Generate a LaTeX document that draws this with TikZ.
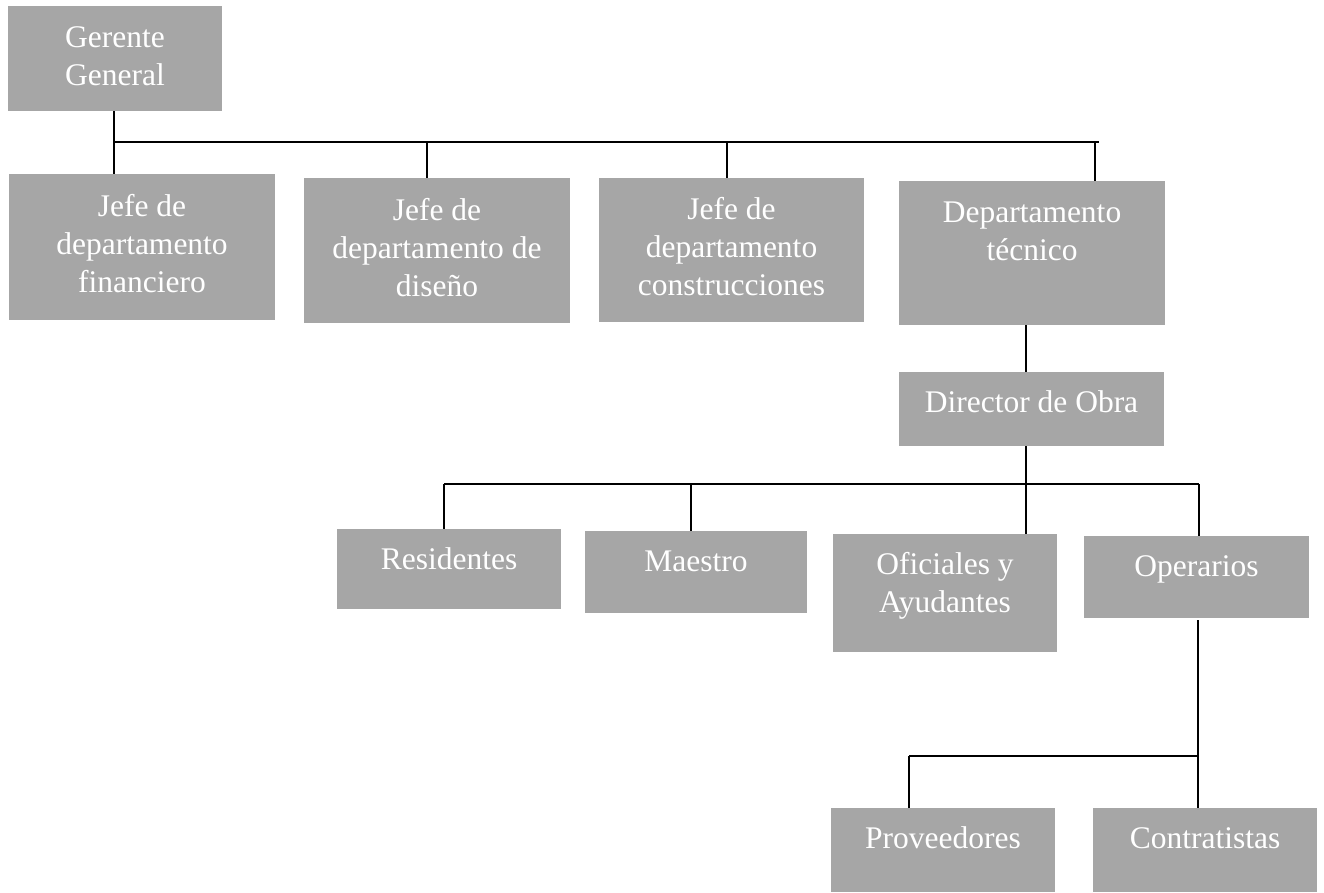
\documentclass[tikz,border=0pt]{standalone}
\usepackage{fontspec}
\setmainfont{Liberation Serif}
\definecolor{boxgray}{HTML}{A6A6A6}
\begin{document}
\begin{tikzpicture}[x=1pt,y=-1pt,
 box/.style={fill=boxgray, draw=none, inner sep=0pt, rectangle},
 txt/.style={anchor=north, inner sep=0pt, align=center, text=white, font=\fontsize{31.5}{38}\selectfont},
 conn/.style={line width=2.3pt, draw=black}]
\useasboundingbox[fill=white] (0,0) rectangle (1324,892);
% boxes
\node[box, minimum width=214pt, minimum height=105pt] (gg) at (115,58.5) {};
\node[box, minimum width=266pt, minimum height=146pt] (jf) at (142,247) {};
\node[box, minimum width=266pt, minimum height=145pt] (jd) at (437,250.5) {};
\node[box, minimum width=265pt, minimum height=144pt] (jc) at (731.5,250) {};
\node[box, minimum width=266pt, minimum height=144pt] (dt) at (1032,253) {};
\node[box, minimum width=265pt, minimum height=74pt] (dob) at (1031.5,409) {};
\node[box, minimum width=224pt, minimum height=80pt] (res) at (449,569) {};
\node[box, minimum width=222pt, minimum height=82pt] (mae) at (696,572) {};
\node[box, minimum width=224pt, minimum height=118pt] (ofi) at (945,593) {};
\node[box, minimum width=225pt, minimum height=82pt] (ope) at (1196.5,577) {};
\node[box, minimum width=224pt, minimum height=84pt] (pro) at (943,850) {};
\node[box, minimum width=224pt, minimum height=84pt] (con) at (1205,850) {};
% texts
\node[txt] (ggt) at ([yshift=-15pt]gg.north) {\rule{0pt}{26pt}Gerente\\General};
\node[txt] (jft) at ([yshift=-16pt]jf.north) {\rule{0pt}{26pt}Jefe de\\departamento\\financiero};
\node[txt] (jdt) at ([yshift=-16pt]jd.north) {\rule{0pt}{26pt}Jefe de\\departamento de\\diseño};
\node[txt] (jct) at ([yshift=-15pt]jc.north) {\rule{0pt}{26pt}Jefe de\\departamento\\construcciones};
\node[txt] (dtt) at ([yshift=-15pt]dt.north) {\rule{0pt}{26pt}Departamento\\técnico};
\node[txt] (dobt) at ([yshift=-14pt]dob.north) {\rule{0pt}{26pt}Director de Obra};
\node[txt] (rest) at ([yshift=-14pt]res.north) {\rule{0pt}{26pt}Residentes};
\node[txt] (maet) at ([yshift=-14pt]mae.north) {\rule{0pt}{26pt}Maestro};
\node[txt] (ofit) at ([yshift=-14pt]ofi.north) {\rule{0pt}{26pt}Oficiales y\\Ayudantes};
\node[txt] (opet) at ([yshift=-14pt]ope.north) {\rule{0pt}{26pt}Operarios};
\node[txt] (prot) at ([yshift=-14pt]pro.north) {\rule{0pt}{26pt}Proveedores};
\node[txt] (cont) at ([yshift=-14pt]con.north) {\rule{0pt}{26pt}Contratistas};
% connectors level 1
\coordinate (h1a) at (114,142);
\coordinate (h1b) at (1099,142);
\coordinate (d2) at (427,142);
\coordinate (d3) at (727,142);
\coordinate (d4) at (1095,142);
\draw[conn] (gg.south -| h1a) -- (jf.north -| h1a);
\draw[conn] (h1a) -- (h1b);
\draw[conn] (d2) -- (d2 |- jd.north);
\draw[conn] (d3) -- (d3 |- jc.north);
\draw[conn] (d4) -- (d4 |- dt.north);
% level 2
\coordinate (v2) at (1026,0);
\draw[conn] (dt.south -| v2) -- (dob.north -| v2);
\draw[conn] (dob.south -| v2) -- (ofi.north -| v2);
\coordinate (h2a) at (444,484);
\coordinate (h2b) at (1199,484);
\coordinate (d6) at (691,484);
\draw[conn] (h2a) -- (h2b);
\draw[conn] (h2a) -- (h2a |- res.north);
\draw[conn] (d6) -- (d6 |- mae.north);
\draw[conn] (h2b) -- (h2b |- ope.north);
% level 3
\coordinate (v3) at (1198,0);
\coordinate (h3a) at (909,756);
\coordinate (h3b) at (1198,756);
\draw[conn] ([yshift=-2pt]ope.south -| v3) -- (con.north -| v3);
\draw[conn] (h3a) -- (h3b);
\draw[conn] (h3a) -- (h3a |- pro.north);
\end{tikzpicture}
\end{document}
